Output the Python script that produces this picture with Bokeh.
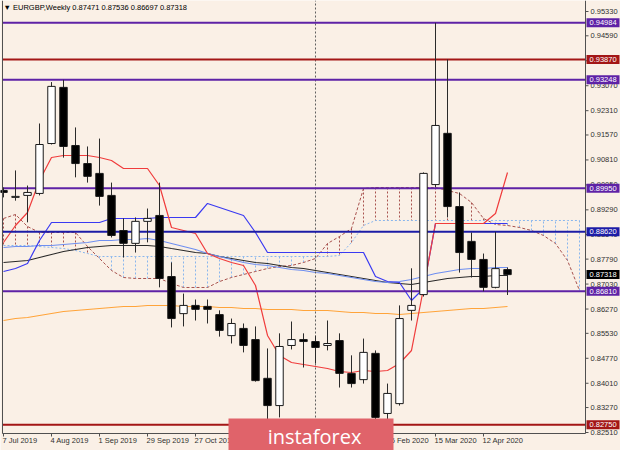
from bokeh.plotting import figure
from bokeh.models import Range1d, ColumnDataSource
from bokeh.core.properties import value
from bokeh.embed import file_html
from bokeh.resources import INLINE

# ---------------- data (weekly EURGBP) ----------------
tick_weeks = [0, 4, 8, 12, 16, 20, 24, 28, 32, 36, 40]
tick_labels = ["7 Jul 2019", "4 Aug 2019", "1 Sep 2019", "29 Sep 2019", "27 Oct 2019",
               "24 Nov 2019", "22 Dec 2019", "19 Jan 2020", "16 Feb 2020", "15 Mar 2020",
               "12 Apr 2020"]

opens = [0.8988, 0.8967, 0.8973, 0.8979, 0.9131, 0.9302, 0.9125, 0.9070, 0.9040, 0.8973,
         0.8866, 0.8827, 0.8894, 0.8912, 0.8726, 0.8613, 0.8638, 0.8635, 0.8610, 0.8546,
         0.8568, 0.8534, 0.8416, 0.8333, 0.8516, 0.8534, 0.8528, 0.8516, 0.8531, 0.8431,
         0.8412, 0.8492, 0.8309, 0.8339, 0.8623, 0.8671, 0.9006, 0.9162, 0.8939, 0.8833,
         0.8778, 0.8693, 0.87471]
highs = [0.8997, 0.9049, 0.9003, 0.9192, 0.9318, 0.93248, 0.9180, 0.9122, 0.9146, 0.9012,
         0.8903, 0.8906, 0.8933, 0.9012, 0.8769, 0.8674, 0.8656, 0.8656, 0.8623, 0.8598,
         0.8583, 0.8574, 0.8507, 0.8553, 0.8589, 0.8553, 0.8546, 0.8592, 0.8553, 0.8486,
         0.8537, 0.8501, 0.8400, 0.8638, 0.8751, 0.9043, 0.94984, 0.93870, 0.8982, 0.8860,
         0.8796, 0.8862, 0.87536]
lows = [0.8967, 0.8957, 0.8891, 0.8973, 0.9128, 0.9088, 0.9028, 0.9012, 0.8942, 0.8845,
        0.8784, 0.8799, 0.8830, 0.8693, 0.8571, 0.8574, 0.8592, 0.8583, 0.8543, 0.8522,
        0.8495, 0.8406, 0.8275, 0.8297, 0.8504, 0.8449, 0.8461, 0.8501, 0.8388, 0.8388,
        0.8400, 0.8288, 0.8291, 0.8333, 0.8592, 0.8665, 0.8998, 0.8906, 0.8738, 0.8723,
        0.8681, 0.8690, 0.86697]
closes = [0.8982, 0.8970, 0.8982, 0.9128, 0.9305, 0.9122, 0.9070, 0.9031, 0.8970, 0.8851,
          0.8827, 0.8894, 0.8903, 0.8720, 0.8598, 0.8638, 0.8626, 0.8626, 0.8562, 0.8583,
          0.8516, 0.8409, 0.8333, 0.8513, 0.8534, 0.8528, 0.8510, 0.8522, 0.8431, 0.8400,
          0.8495, 0.8297, 0.8370, 0.8598, 0.8638, 0.9040, 0.9186, 0.8939, 0.8799, 0.8778,
          0.8693, 0.8750, 0.87318]

tenkan = [0.88296, 0.88814, 0.89210, 0.90184, 0.90884, 0.90945, 0.90945, 0.90945, 0.90884, 0.90793,
          0.90549, 0.90549, 0.90549, 0.90032, 0.88753, 0.88662, 0.88570, 0.87961, 0.87809, 0.87687,
          0.87596, 0.86987, 0.85465, 0.84855, 0.84642, 0.84581, 0.84520, 0.84459, 0.84368, 0.84338,
          0.84399, 0.84368, 0.84399, 0.84612, 0.85008, 0.86895, 0.88875, 0.88875, 0.88875, 0.88875,
          0.88875, 0.89179, 0.90428]
kijun = [0.87413, 0.87504, 0.87657, 0.88357, 0.88905, 0.88905, 0.88905, 0.88905, 0.88905, 0.89027,
         0.89027, 0.89027, 0.89027, 0.89057, 0.89057, 0.89057, 0.89057, 0.89484, 0.89362, 0.89240,
         0.89118, 0.88601, 0.87992, 0.87992, 0.87992, 0.87992, 0.87992, 0.87992, 0.87992, 0.87992,
         0.87992, 0.87261, 0.87108, 0.87078, 0.86530, 0.86895, 0.88875, 0.88875, 0.88875, 0.88875,
         0.88875, 0.88875, 0.88875]
ma_fast = [0.88144, 0.88174, 0.88174, 0.88205, 0.88205, 0.88235, 0.88265, 0.88296, 0.88357, 0.88357,
           0.88387, 0.88387, 0.88418, 0.88357, 0.88265, 0.88174, 0.88083, 0.87961, 0.87870, 0.87778,
           0.87687, 0.87626, 0.87596, 0.87535, 0.87474, 0.87444, 0.87383, 0.87352, 0.87291, 0.87230,
           0.87169, 0.87108, 0.87078, 0.87108, 0.87169, 0.87261, 0.87352, 0.87413, 0.87474, 0.87504,
           0.87504, 0.87535, 0.87535]
ma_mid = [0.87687, 0.87718, 0.87748, 0.87839, 0.87931, 0.88022, 0.88083, 0.88144, 0.88174, 0.88205,
          0.88205, 0.88205, 0.88205, 0.88174, 0.88113, 0.88053, 0.87992, 0.87961, 0.87870, 0.87809,
          0.87748, 0.87687, 0.87657, 0.87596, 0.87535, 0.87504, 0.87444, 0.87383, 0.87322, 0.87261,
          0.87200, 0.87139, 0.87078, 0.87048, 0.87017, 0.87078, 0.87139, 0.87200, 0.87230, 0.87261,
          0.87261, 0.87291, 0.87291]
ma_slow = [0.85921, 0.85982, 0.86012, 0.86073, 0.86134, 0.86195, 0.86226, 0.86256, 0.86286, 0.86317,
           0.86347, 0.86347, 0.86378, 0.86378, 0.86378, 0.86347, 0.86347, 0.86347, 0.86317, 0.86317,
           0.86286, 0.86286, 0.86256, 0.86256, 0.86256, 0.86226, 0.86226, 0.86226, 0.86195, 0.86165,
           0.86165, 0.86134, 0.86134, 0.86104, 0.86134, 0.86165, 0.86195, 0.86226, 0.86256, 0.86286,
           0.86286, 0.86317, 0.86347]
span_a = [0.89027, 0.89149, 0.88783, 0.88601, 0.88601, 0.88601, 0.88601, 0.88174, 0.87809, 0.87444,
          0.87230, 0.87200, 0.87200, 0.87200, 0.87048, 0.86926, 0.86926, 0.86926, 0.87108, 0.87230,
          0.87322, 0.87413, 0.87504, 0.87565, 0.87596, 0.87687, 0.87809, 0.88265, 0.88479, 0.88722,
          0.89940, 0.89971, 0.89971, 0.89971, 0.89971, 0.89971, 0.89971, 0.89880, 0.89788, 0.89514,
          0.89027, 0.88844, 0.88814, 0.88753, 0.88662, 0.88509, 0.88265, 0.87748, 0.86835]
span_b = [0.88205, 0.88205, 0.88205, 0.88174, 0.88144, 0.88113, 0.88053, 0.87961, 0.87870, 0.87870,
          0.87870, 0.87870, 0.87870, 0.87870, 0.87870, 0.87870, 0.87870, 0.87870, 0.87870, 0.87870,
          0.87870, 0.87870, 0.87870, 0.87870, 0.87870, 0.87870, 0.87870, 0.87870, 0.87900, 0.88296,
          0.88814, 0.88966, 0.88966, 0.88966, 0.88966, 0.88966, 0.88966, 0.88966, 0.88966, 0.88966,
          0.88966, 0.88966, 0.88966, 0.88966, 0.88966, 0.88966, 0.88966, 0.88966, 0.88966]

levels = [0.94984, 0.93870, 0.93248, 0.89950, 0.88620, 0.86810, 0.82750]
level_kinds = ["purple", "red", "purple", "purple", "blue", "purple", "red"]
last_price = 0.87318
price_ticks = [0.95330, 0.94590, 0.93830, 0.93070, 0.92310, 0.91570, 0.90810, 0.90050, 0.89290,
               0.88540, 0.87790, 0.87030, 0.86270, 0.85530, 0.84770, 0.84010, 0.83270, 0.82510]
separator_week = 26
title_text = "\u25bc EURGBP,Weekly  0.87471 0.87536 0.86697 0.87318"
watermark = "instaforex"

# ---------------- styling / geometry ----------------
BG = "#faf0e6"
FONT = "Liberation Sans"
AXIS = "#505050"
kind_color = {"purple": "#5e22a6", "red": "#a31616", "blue": "#1c1ca6"}

W, H = 620, 450
X0, PXX = -0.25, 1.0 / 12.0          # one week = 12 px
Y1, PXY = 0.95665, 1.0 / 3284.0      # price units per px
X_LEFT = X0 + 2 * PXX                 # chart area edges
X_RIGHT = X0 + 585 * PXX
Y_TOP = Y1
Y_BOTTOM = Y1 - 433 * PXY

p = figure(width=W, height=H, output_backend="svg", toolbar_location=None,
           x_range=Range1d(X0, X0 + W * PXX), y_range=Range1d(Y1 - H * PXY, Y1),
           x_axis_location=None, y_axis_location=None,
           min_border=0, min_border_left=0, min_border_right=0,
           min_border_top=0, min_border_bottom=0,
           background_fill_color=BG, border_fill_color=BG, outline_line_color=None)
p.grid.visible = False

# ichimoku cloud hatch
n_cloud = len(span_a)
bx, ba, bb, rx, ra, rb = [], [], [], [], [], []
for i in range(n_cloud):
    if span_a[i] >= span_b[i]:
        rx.append(i); ra.append(span_a[i]); rb.append(span_b[i])
    else:
        bx.append(i); ba.append(span_a[i]); bb.append(span_b[i])
p.segment(x0=rx, y0=ra, x1=rx, y1=rb, line_color="#a8524e", line_dash="2 2", line_width=1)
p.segment(x0=bx, y0=ba, x1=bx, y1=bb, line_color="#88b6ee", line_dash="2 2", line_width=1)
cx = list(range(n_cloud))
p.line(cx, span_a, line_color="#a8524e", line_dash="3 2", line_width=1)
p.line(cx, span_b, line_color="#88b6ee", line_dash="2 2", line_width=1)

x = list(range(len(opens)))
p.line(x, ma_slow, line_color="#ffa43a", line_width=1.2)
p.line(x, ma_mid, line_color="#2a2a2a", line_width=1.2)
p.line(x, ma_fast, line_color="#6f8ff0", line_width=1.2)
p.line(x, kijun, line_color="#3a3af2", line_width=1.2)
p.line(x, tenkan, line_color="#f03c3c", line_width=1.2)

# period separator
p.segment(x0=[separator_week], y0=[Y_BOTTOM], x1=[separator_week], y1=[Y_TOP],
          line_color="#606060", line_dash="2 2", line_width=1)

# horizontal levels
p.segment(x0=[X_LEFT] * len(levels), y0=levels, x1=[X_RIGHT] * len(levels), y1=levels,
          line_color=[kind_color[k] for k in level_kinds], line_width=2)

# candles
src = ColumnDataSource(dict(
    x=x, o=opens, h=highs, l=lows, c=closes,
    top=[max(a, b) for a, b in zip(opens, closes)],
    bot=[min(a, b) for a, b in zip(opens, closes)],
    fill=["#ffffff" if c >= o else "#000000" for o, c in zip(opens, closes)],
))
p.segment(x0="x", y0="h", x1="x", y1="l", source=src, line_color="#2a2a2a", line_width=1)
p.vbar(x="x", width=0.62, top="top", bottom="bot", source=src, fill_color="fill",
       line_color="#1a1a1a", line_width=1)

# chart frame (left, right and bottom axis lines)
p.segment(x0=[X_LEFT, X_RIGHT, X_LEFT], y0=[Y_BOTTOM, Y_BOTTOM, Y_BOTTOM],
          x1=[X_LEFT, X_RIGHT, X_RIGHT], y1=[Y_TOP, Y_TOP, Y_BOTTOM],
          line_color=AXIS, line_width=1)

# price axis (right)
nt = len(price_ticks)
p.segment(x0=[X_RIGHT] * nt, y0=price_ticks, x1=[X_RIGHT + 3 * PXX] * nt, y1=price_ticks,
          line_color=AXIS, line_width=1)
p.text(x=[X_RIGHT] * nt, y=price_ticks, text=["%.5f" % t for t in price_ticks],
       x_offset=5, text_baseline="middle", text_align="left",
       text_font=value(FONT), text_font_size="7.5px", text_color="#303030")

# time axis (bottom), labels left-aligned at their tick like MT4
nw = len(tick_weeks)
p.segment(x0=tick_weeks, y0=[Y_BOTTOM] * nw, x1=tick_weeks, y1=[Y_BOTTOM - 3 * PXY] * nw,
          line_color=AXIS, line_width=1)
p.text(x=tick_weeks, y=[Y_BOTTOM] * nw, text=tick_labels, x_offset=-1, y_offset=7,
       text_baseline="middle", text_align="left",
       text_font=value(FONT), text_font_size="7.5px", text_color="#303030")

# price boxes on the axis
box_vals = levels + [last_price]
box_cols = [kind_color[k] for k in level_kinds] + ["#000000"]
nb = len(box_vals)
p.quad(left=[X_RIGHT + 1 * PXX] * nb, right=[X_RIGHT + 34 * PXX] * nb,
       top=[v + 4.5 * PXY for v in box_vals], bottom=[v - 4.5 * PXY for v in box_vals],
       fill_color=box_cols, line_color=None)
p.text(x=[X_RIGHT] * nb, y=box_vals, text=["%.5f" % v for v in box_vals],
       x_offset=4, text_baseline="middle", text_align="left",
       text_font=value(FONT), text_font_size="7.5px", text_color="#ffffff")

# title
p.text(x=[X_LEFT], y=[Y1 - 7 * PXY], text=[title_text], x_offset=1,
       text_baseline="middle", text_align="left",
       text_font=value(FONT), text_font_size="7.5px", text_color="#000000")

# watermark logo
p.quad(left=[X0 + 228 * PXX], right=[X0 + 393 * PXX], top=[Y1 - 418 * PXY], bottom=[Y1 - H * PXY],
       fill_color="#e0636a", line_color=None)
p.text(x=[X0 + 314 * PXX], y=[Y1 - 436 * PXY], text=[watermark],
       text_baseline="middle", text_align="center",
       text_font=value("Open Sans"), text_font_size="20px", text_color="#ffffff")

open("out.html", "w").write(file_html(p, INLINE))
